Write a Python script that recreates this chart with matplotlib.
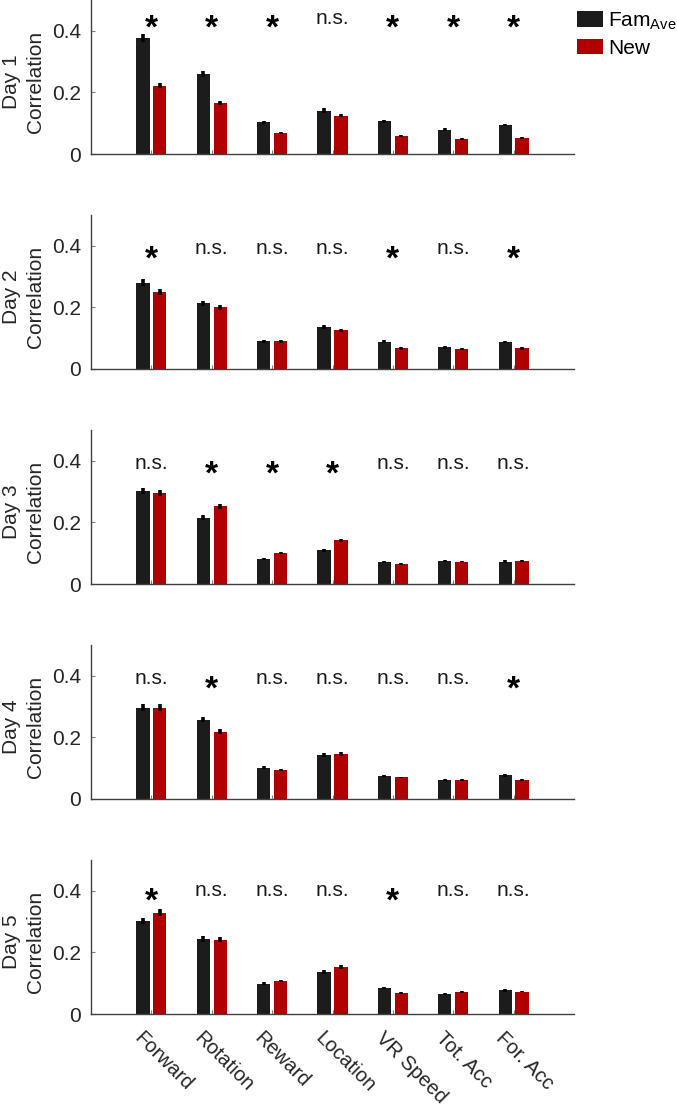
import matplotlib
matplotlib.use("Agg")
import matplotlib.pyplot as plt
from matplotlib.patches import Patch
import numpy as np

plt.rcParams['font.family'] = ['Liberation Sans', 'DejaVu Sans']

categories = ['Forward', 'Rotation', 'Reward', 'Location', 'VR Speed', 'Tot. Acc', 'For. Acc']
days = ['Day 1', 'Day 2', 'Day 3', 'Day 4', 'Day 5']

fam_day1 = [0.377, 0.261, 0.103, 0.141, 0.107, 0.079, 0.095]
new_day1 = [0.222, 0.165, 0.069, 0.124, 0.059, 0.050, 0.052]
fam_day2 = [0.280, 0.213, 0.090, 0.136, 0.089, 0.070, 0.087]
new_day2 = [0.250, 0.200, 0.090, 0.126, 0.067, 0.066, 0.067]
fam_day3 = [0.302, 0.215, 0.082, 0.109, 0.072, 0.075, 0.073]
new_day3 = [0.295, 0.252, 0.100, 0.142, 0.066, 0.073, 0.075]
fam_day4 = [0.296, 0.258, 0.102, 0.142, 0.075, 0.061, 0.077]
new_day4 = [0.297, 0.219, 0.095, 0.145, 0.070, 0.061, 0.063]
fam_day5 = [0.303, 0.244, 0.099, 0.137, 0.084, 0.065, 0.077]
new_day5 = [0.329, 0.241, 0.107, 0.152, 0.067, 0.071, 0.073]

fam_err_day1 = [0.012, 0.010, 0.005, 0.007, 0.005, 0.004, 0.004]
new_err_day1 = [0.007, 0.006, 0.003, 0.005, 0.003, 0.003, 0.003]
fam_err_day2 = [0.011, 0.009, 0.004, 0.007, 0.004, 0.004, 0.004]
new_err_day2 = [0.009, 0.008, 0.004, 0.005, 0.004, 0.003, 0.004]
fam_err_day3 = [0.011, 0.008, 0.004, 0.006, 0.004, 0.004, 0.004]
new_err_day3 = [0.010, 0.008, 0.004, 0.005, 0.003, 0.003, 0.003]
fam_err_day4 = [0.011, 0.009, 0.004, 0.006, 0.004, 0.003, 0.004]
new_err_day4 = [0.010, 0.008, 0.004, 0.006, 0.003, 0.003, 0.003]
fam_err_day5 = [0.010, 0.009, 0.004, 0.007, 0.004, 0.003, 0.004]
new_err_day5 = [0.012, 0.008, 0.004, 0.007, 0.003, 0.003, 0.003]

sig_day1 = ['*', '*', '*', 'n.s.', '*', '*', '*']
sig_day2 = ['*', 'n.s.', 'n.s.', 'n.s.', '*', 'n.s.', '*']
sig_day3 = ['n.s.', '*', '*', '*', 'n.s.', 'n.s.', 'n.s.']
sig_day4 = ['n.s.', '*', 'n.s.', 'n.s.', 'n.s.', 'n.s.', '*']
sig_day5 = ['*', 'n.s.', 'n.s.', 'n.s.', '*', 'n.s.', 'n.s.']
sig_height = [0.44, 0.39, 0.39, 0.39, 0.40]

fam_all = [fam_day1, fam_day2, fam_day3, fam_day4, fam_day5]
new_all = [new_day1, new_day2, new_day3, new_day4, new_day5]
famerr_all = [fam_err_day1, fam_err_day2, fam_err_day3, fam_err_day4, fam_err_day5]
newerr_all = [new_err_day1, new_err_day2, new_err_day3, new_err_day4, new_err_day5]
sig_all = [sig_day1, sig_day2, sig_day3, sig_day4, sig_day5]

W, H = 677, 1106
fig = plt.figure(figsize=(W / 100, H / 100), dpi=100)

black = '#1c1c1c'
red = '#b00000'
axc = '#404040'
x = np.arange(1, len(categories) + 1)
bw = 0.22
off = 0.14

for k in range(5):
    bottom_px = 154 + 215 * k
    ax = fig.add_axes([91 / W, (H - bottom_px) / H, 483 / W, 154 / H])
    ax.bar(x - off, fam_all[k], bw, color=black, zorder=2)
    ax.bar(x + off, new_all[k], bw, color=red, zorder=2)
    ax.errorbar(x - off, fam_all[k], yerr=famerr_all[k], fmt='none', ecolor='black', elinewidth=2.6, capsize=0, zorder=3)
    ax.errorbar(x + off, new_all[k], yerr=newerr_all[k], fmt='none', ecolor='black', elinewidth=2.6, capsize=0, zorder=3)
    for i, s in enumerate(sig_all[k]):
        if s == '*':
            ax.text(x[i], sig_height[k] - 0.035, s, ha='center', va='center', fontsize=24,
                    fontweight='bold', color='black')
        else:
            ax.text(x[i], sig_height[k], s, ha='center', va='center', fontsize=15, color='#1a1a1a')
    ax.set_xlim(0, 8)
    ax.set_ylim(0, 0.5)
    ax.set_yticks([0, 0.2, 0.4])
    ax.set_yticklabels(['0', '0.2', '0.4'])
    ax.set_xticks(x)
    ax.tick_params(axis='both', direction='in', length=3, width=0.8, color='#808080', labelsize=15, labelcolor='#262626')
    ax.tick_params(axis='y', pad=7)
    ax.set_xticklabels([])
    for sp in ['top', 'right']:
        ax.spines[sp].set_visible(False)
    for sp in ['left', 'bottom']:
        ax.spines[sp].set_color(axc)
        ax.spines[sp].set_linewidth(1.0)
    ax.set_ylabel(days[k] + '\nCorrelation', fontsize=15, color='#262626', linespacing=1.3)
    ax.yaxis.set_label_coords(-0.096, 0.47)
    if k == 4:
        for i, c in enumerate(categories):
            ax.text(x[i] - 0.24, -0.14, c, transform=ax.get_xaxis_transform(), rotation=-45,
                    rotation_mode='anchor', ha='left', va='center', fontsize=14.5, color='#262626')
    if k == 0:
        handles = [Patch(facecolor=black), Patch(facecolor=red)]
        fig.legend(handles, ['Fam$_{\\mathregular{Ave}}$', 'New'], loc='upper left',
                   bbox_to_anchor=(573 / W, 1 - 6 / H), frameon=False, fontsize=15,
                   handlelength=1.25, handleheight=0.75, handletextpad=0.25, labelspacing=0.35,
                   borderaxespad=0, borderpad=0.2)

fig.savefig('out.png', dpi=100)
